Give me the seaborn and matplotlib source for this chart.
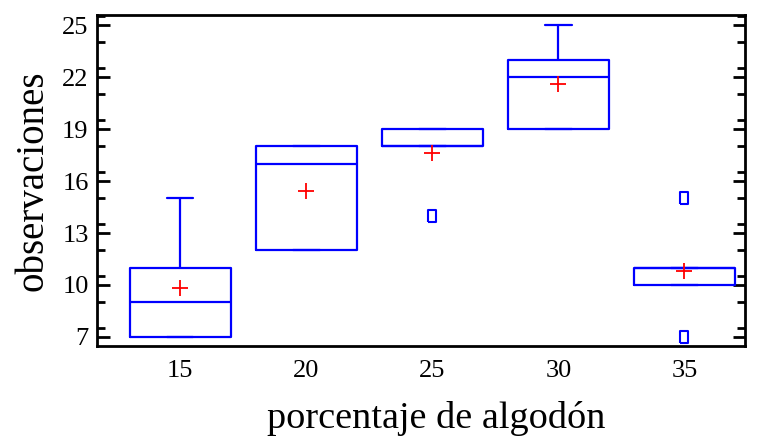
import numpy as np
import pandas as pd
import seaborn as sns
import matplotlib
matplotlib.use("Agg")
import matplotlib.pyplot as plt
from matplotlib.ticker import MultipleLocator

porcentaje = ["15", "20", "25", "30", "35"]
obs_15 = [7, 7, 15, 11, 9]
obs_20 = [12, 17, 12, 18, 18]
obs_25 = [14, 18, 18, 19, 19]
obs_30 = [19, 25, 22, 19, 23]
obs_35 = [7, 10, 11, 15, 11]
y_ticks = [7, 10, 13, 16, 19, 22, 25]

groups = [obs_15, obs_20, obs_25, obs_30, obs_35]
df = pd.DataFrame({
    "porcentaje": np.repeat(porcentaje, [len(g) for g in groups]),
    "obs": np.concatenate(groups),
})

sns.set_theme(style="white")
plt.rcParams["font.family"] = ["Liberation Serif", "DejaVu Serif"]
plt.rcParams["text.color"] = "black"
plt.rcParams["axes.labelcolor"] = "black"

fig = plt.figure(figsize=(7.58, 4.42), dpi=100)
ax = fig.add_axes([97/758, 1-346/442, (745-97)/758, (346-15)/442])

blue = "#0000ff"
rect = [(-0.6, -1), (0.6, -1), (0.6, 1), (-0.6, 1), (-0.6, -1)]
sns.boxplot(data=df, x="porcentaje", y="obs", order=porcentaje, ax=ax,
            width=0.8, fill=False, color=blue, linewidth=1.6, whis=1.5,
            showmeans=True,
            meanprops=dict(marker="+", markeredgecolor="red", markersize=12, markeredgewidth=1.3),
            flierprops=dict(marker=rect, markeredgecolor=blue, markerfacecolor="none",
                            markersize=9, markeredgewidth=1.5),
            medianprops=dict(color=blue, linewidth=1.6),
            capprops=dict(color=blue, linewidth=1.6),
            whiskerprops=dict(color=blue, linewidth=1.6),
            boxprops=dict(color=blue, linewidth=1.6))

# narrower whisker caps
for line in ax.lines:
    xd = np.asarray(line.get_xdata(), dtype=float)
    yd = np.asarray(line.get_ydata(), dtype=float)
    if len(xd) == 2 and yd[0] == yd[1]:
        w = abs(xd[1] - xd[0])
        if 0.1 < w < 0.6:
            c = xd.mean()
            line.set_xdata([c - 0.105, c + 0.105])

ax.set_xlim(-0.66, 4.48)
ax.set_ylim(6.48, 25.58)
ax.set_yticks(y_ticks)
ax.yaxis.set_minor_locator(MultipleLocator(1.5))
ax.tick_params(axis="y", which="both", direction="in", left=True, right=True,
               labelsize=19, labelcolor="black", colors="black", width=2)
ax.tick_params(axis="y", which="major", length=9, pad=6)
ax.tick_params(axis="y", which="minor", length=6)
ax.tick_params(axis="x", length=0, labelsize=19, labelcolor="black", pad=10)
for s in ax.spines.values():
    s.set_visible(True)
    s.set_color("black")
    s.set_linewidth(2)
ax.set_xlabel("porcentaje de algodón", fontsize=27.5, labelpad=12)
ax.xaxis.set_label_coords(0.523, -0.165)
ax.set_ylabel("observaciones", fontsize=28, labelpad=8)

fig.savefig("out.png", dpi=100)
